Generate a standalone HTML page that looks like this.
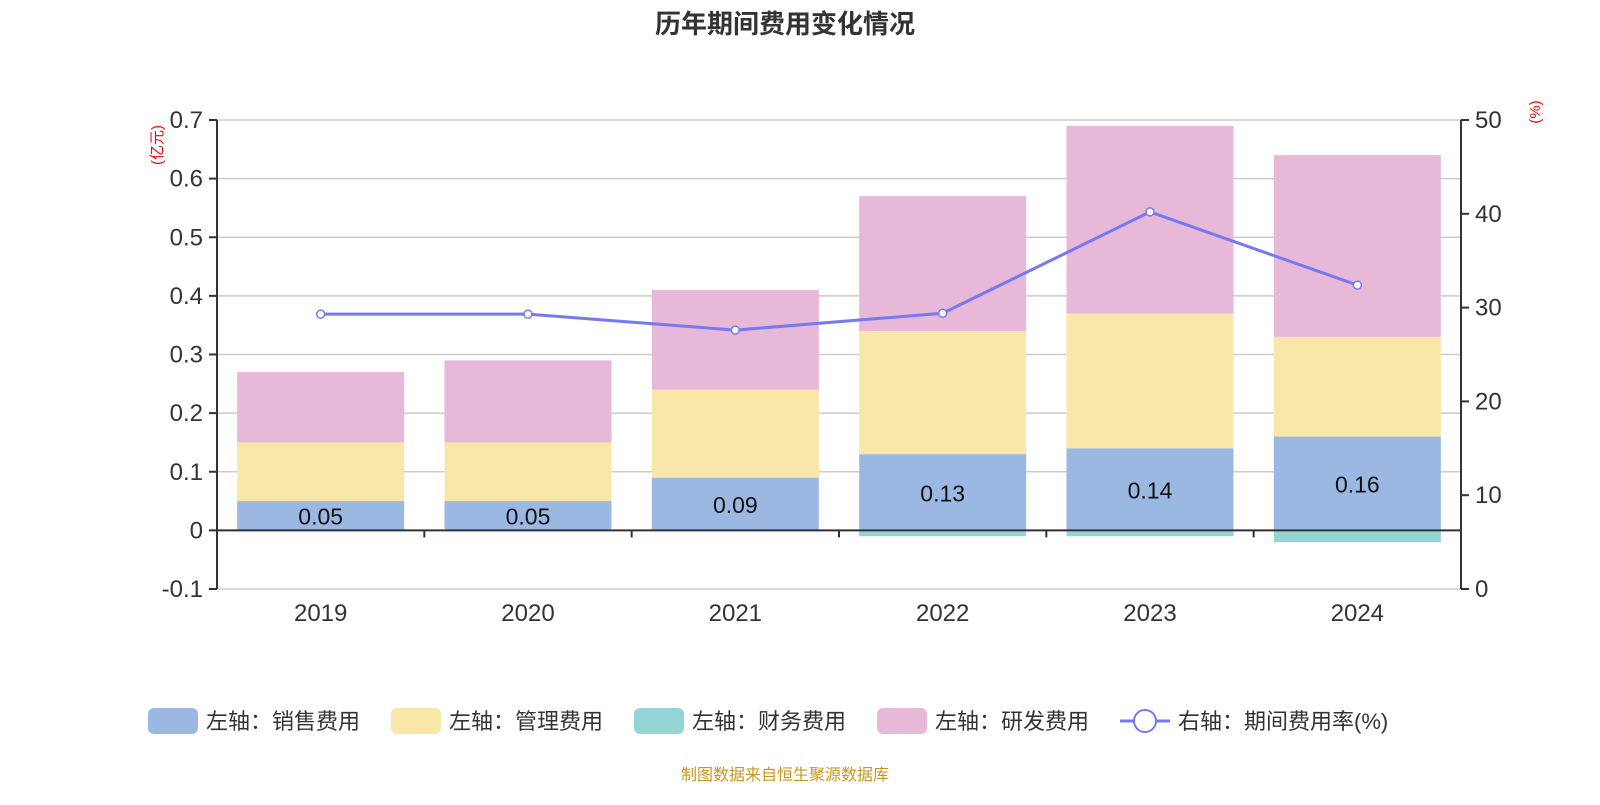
<!DOCTYPE html>
<html><head><meta charset="utf-8"><style>
body{margin:0;background:#fff;}
svg text{font-family:"Liberation Sans","Noto Sans CJK SC",sans-serif;}
</style></head><body>
<svg id="c" width="1600" height="800" xmlns="http://www.w3.org/2000/svg">
<text x="785" y="33" text-anchor="middle" font-size="26" font-weight="bold" fill="#333">历年期间费用变化情况</text>
<text transform="translate(162,145) rotate(-90)" text-anchor="middle" font-size="15" fill="#f00">(亿元)</text>
<text transform="translate(1540,112) rotate(-90)" text-anchor="middle" font-size="15" fill="#f00">(%)</text>
<g id="grid"></g><g id="bars"></g><g id="axes"></g><g id="line"></g>
<g font-size="22" fill="#333">
<g><rect x="148" y="708" width="50" height="26" rx="6" fill="#9bb8e2"/><text x="206" y="729">左轴：销售费用</text></g>
<g><rect x="391" y="708" width="50" height="26" rx="6" fill="#f8e7a8"/><text x="449" y="729">左轴：管理费用</text></g>
<g><rect x="634" y="708" width="50" height="26" rx="6" fill="#95d4d4"/><text x="692" y="729">左轴：财务费用</text></g>
<g><rect x="877" y="708" width="50" height="26" rx="6" fill="#e8b8d8"/><text x="935" y="729">左轴：研发费用</text></g>
<g><line x1="1120" y1="721" x2="1170" y2="721" stroke="#7679f0" stroke-width="3"/><circle cx="1145" cy="721" r="11" fill="#fff" stroke="#7679f0" stroke-width="2"/><text x="1178" y="729">右轴：期间费用率(%)</text></g>
</g>
<text x="785" y="780" text-anchor="middle" font-size="16" fill="#c8961e">制图数据来自恒生聚源数据库</text>
</svg>
<script>
const years=['2019','2020','2021','2022','2023','2024'];
const sales=[0.05,0.05,0.09,0.13,0.14,0.16];
const mgmt=[0.10,0.10,0.15,0.21,0.23,0.17];
const finance=[0,0,0,-0.01,-0.01,-0.02];
const rnd=[0.12,0.14,0.17,0.23,0.32,0.31];
const rate=[29.3,29.3,27.6,29.4,40.2,32.4];
const leftTicks=['-0.1','0','0.1','0.2','0.3','0.4','0.5','0.6','0.7'];
const rightTicks=['0','10','20','30','40','50'];
const NS='http://www.w3.org/2000/svg';
const X0=217,X1=1461,YT=120,YB=589;
const yL=v=>YB-(v+0.1)/0.8*(YB-YT);
const yR=v=>YB-v/50*(YB-YT);
const bw=(X1-X0)/years.length;
const xc=i=>X0+bw*(i+0.5);
function mk(p,t,a){const e=document.createElementNS(NS,t);for(const k in a)e.setAttribute(k,a[k]);document.getElementById(p).appendChild(e);return e;}
leftTicks.forEach(t=>{const y=yL(+t);
 const g=mk('grid','line',{x1:X0,x2:X1,y1:y,y2:y,stroke:'#ccc','stroke-width':1.5});
 
 
 mk('axes','line',{x1:X0-8,x2:X0,y1:y,y2:y,stroke:'#333','stroke-width':2});
 const tx=mk('axes','text',{x:X0-14,y:y+8,'text-anchor':'end','font-size':24,fill:'#333'});tx.textContent=t;
 
 
});
rightTicks.forEach(t=>{const y=yR(+t);
 mk('axes','line',{x1:X1,x2:X1+8,y1:y,y2:y,stroke:'#333','stroke-width':2});
 const tx=mk('axes','text',{x:X1+14,y:y+8,'font-size':24,fill:'#333'});tx.textContent=t;
 
 
});
mk('axes','line',{x1:X0,x2:X0,y1:YT,y2:YB,stroke:'#333','stroke-width':2});
mk('axes','line',{x1:X1,x2:X1,y1:YT,y2:YB,stroke:'#333','stroke-width':2});
const z=yL(0);
mk('axes','line',{x1:X0,x2:X1,y1:z,y2:z,stroke:'#333','stroke-width':2});
for(let i=1;i<years.length;i++)mk('axes','line',{x1:X0+bw*i,x2:X0+bw*i,y1:z,y2:z+7,stroke:'#333','stroke-width':2});
const BW=167;
years.forEach((yr,i)=>{const x=xc(i)-BW/2;
 const segs=[[0,sales[i],'#9bb8e2','bar-sales'],[sales[i],sales[i]+mgmt[i],'#f8e7a8','bar-management'],[sales[i]+mgmt[i],sales[i]+mgmt[i]+rnd[i],'#e8b8d8','bar-rnd'],[finance[i],0,'#95d4d4','bar-finance']];
 segs.forEach(s=>{const y1=yL(s[1]),y2=yL(s[0]);if(y2-y1<=0)return;
  const r=mk('bars','rect',{x:x,y:y1,width:BW,height:y2-y1,fill:s[2]});
  
  });
 const lb=mk('bars','text',{x:xc(i),y:(yL(0)+yL(sales[i]))/2+9,'text-anchor':'middle','font-size':23,fill:'#111'});lb.textContent=sales[i].toFixed(2);
 
 
 const xl=mk('axes','text',{x:xc(i),y:621,'text-anchor':'middle','font-size':24,fill:'#333'});xl.textContent=yr;
 
 
});
const pl=mk('line','polyline',{points:rate.map((v,i)=>xc(i)+','+yR(v)).join(' '),fill:'none',stroke:'#7679f0','stroke-width':3});


rate.forEach((v,i)=>{const c=mk('line','circle',{cx:xc(i),cy:yR(v),r:4,fill:'#fff',stroke:'#7679f0','stroke-width':1.5});
 
 });
</script>
</body></html>
